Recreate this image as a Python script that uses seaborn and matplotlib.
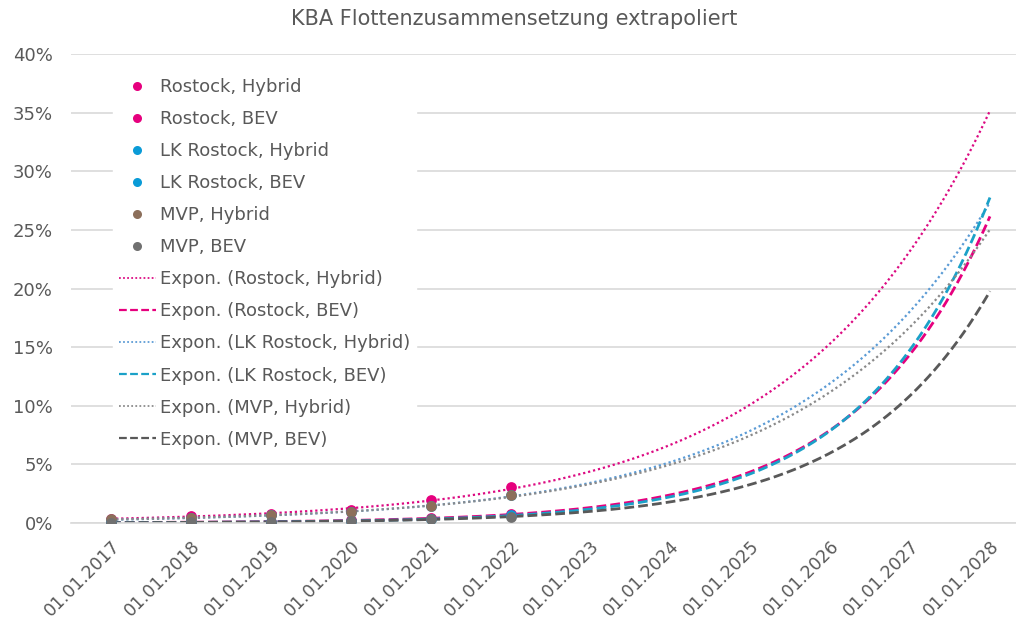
import numpy as np
import pandas as pd
import seaborn as sns
import matplotlib.pyplot as plt
from matplotlib.lines import Line2D

years = ['01.01.2017', '01.01.2018', '01.01.2019', '01.01.2020', '01.01.2021', '01.01.2022',
         '01.01.2023', '01.01.2024', '01.01.2025', '01.01.2026', '01.01.2027', '01.01.2028']
n_obs = 6  # measured years 2017-2022

# fleet share in %
rostock_hybrid = [0.38, 0.56, 0.80, 1.15, 1.92, 3.10]
rostock_bev = [0.037, 0.066, 0.12, 0.22, 0.39, 0.74]
lk_hybrid = [0.29, 0.43, 0.64, 0.95, 1.47, 2.35]
lk_bev = [0.027, 0.051, 0.096, 0.18, 0.33, 0.64]
mvp_hybrid = [0.30, 0.45, 0.66, 0.95, 1.42, 2.36]
mvp_bev = [0.027, 0.050, 0.090, 0.165, 0.30, 0.54]

names = ['Rostock, Hybrid', 'Rostock, BEV', 'LK Rostock, Hybrid', 'LK Rostock, BEV', 'MVP, Hybrid', 'MVP, BEV']
series = [rostock_hybrid, rostock_bev, lk_hybrid, lk_bev, mvp_hybrid, mvp_bev]
point_colors = ['#E6007E', '#E6007E', '#0A9BD7', '#0A9BD7', '#8C6F5B', '#707070']
trend_colors = ['#DC0A82', '#E6007E', '#5B9BD5', '#1BA1C8', '#8A8A8A', '#595959']
trend_styles = [(0, (1, 1.3)), (0, (3.5, 1.5)), (0, (1, 1.3)), (0, (3.5, 1.5)), (0, (1, 1.3)), (0, (3.5, 1.5))]
trend_widths = [1.6, 2.0, 1.6, 2.0, 1.6, 2.0]

txt = '#595959'
sns.set_style('white')
plt.rcParams['font.family'] = ['DejaVu Sans']

fig = plt.figure(figsize=(10.16, 6.22), dpi=100)
ax = fig.add_axes([71 / 1016, 1 - 523 / 622, 1 - 71 / 1016, (523 - 54) / 622])

x_obs = np.arange(n_obs)
x_fit = np.linspace(0, len(years) - 1, 300)

# exponential trend lines like Excel (fit ln(y) linear)
for vals, name, c, ls, lw in zip(series, names, trend_colors, trend_styles, trend_widths):
    b, a = np.polyfit(x_obs, np.log(np.array(vals) / 100), 1)
    sns.lineplot(x=x_fit, y=np.exp(a + b * x_fit), ax=ax, color=c, linestyle=ls,
                 linewidth=lw, zorder=2)

for vals, name, c in zip(series, names, point_colors):
    df = pd.DataFrame({'x': x_obs, 'y': np.array(vals) / 100})
    sns.scatterplot(data=df, x='x', y='y', ax=ax, color=c, s=60, edgecolor=c,
                    linewidth=0, zorder=3)

ax.set_xlim(-0.5, 11 + 26 / 79.8)
ax.set_ylim(0, 0.40)
ax.set_yticks(np.arange(0, 0.41, 0.05))
ax.set_yticklabels([f'{int(round(v * 100))}%' for v in np.arange(0, 0.41, 0.05)])
ax.set_xticks(range(len(years)))
ax.set_xticklabels(years, rotation=45, ha='right', rotation_mode='anchor')
ax.set_xticks(np.arange(-0.5, 11, 1), minor=True)
ax.tick_params(axis='x', which='major', length=0, pad=10, labelsize=12.5, colors=txt)
ax.tick_params(axis='x', which='minor', length=5, color='#D9D9D9', width=1)
ax.tick_params(axis='y', length=0, pad=13, labelsize=13, colors=txt)
ax.grid(axis='y', color='#D9D9D9', linewidth=1.2)
ax.set_axisbelow(True)
for s in ['left', 'right', 'top']:
    ax.spines[s].set_visible(False)
ax.spines['bottom'].set_color('#D9D9D9')
ax.spines['bottom'].set_linewidth(1.2)
ax.set_xlabel('')
ax.set_ylabel('')

handles = []
labels = []
for name, c in zip(names, point_colors):
    handles.append(Line2D([], [], linestyle='none', marker='o', markersize=6.5,
                          markerfacecolor=c, markeredgewidth=0))
    labels.append(name)
for name, c, ls, lw in zip(names, trend_colors, trend_styles, trend_widths):
    handles.append(Line2D([], [], color=c, linestyle=ls, linewidth=lw * 0.8))
    labels.append(f'Expon. ({name})')
leg = ax.legend(handles, labels, loc='upper left', bbox_to_anchor=(0.035, 0.98), frameon=True,
                facecolor='white', edgecolor='white', framealpha=1, fontsize=13,
                labelspacing=0.78, handlelength=2.1, handletextpad=0.22, borderpad=0.3)
for t in leg.get_texts():
    t.set_color(txt)

fig.suptitle('KBA Flottenzusammensetzung extrapoliert', x=0.506, y=0.985, fontsize=15, color=txt)

fig.savefig('out.png', dpi=100)
